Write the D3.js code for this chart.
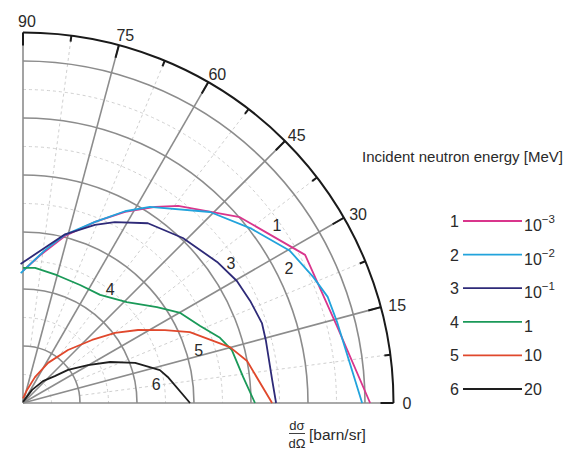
<!DOCTYPE html>
<html lang="en">
<head>
  <meta charset="UTF-8">
  <title>Neutron scattering polar plot</title>
  <script src="https://d3js.org/d3.v7.min.js"></script>
  <style>
    html, body { margin: 0; padding: 0; background: #fff; }
    text { font-family: "Liberation Sans", Arial, sans-serif; fill: #2a2a2a; }
  </style>
</head>
<body>
  <div id="container"></div>
  <script>
    // curve ids and incident energies (legend)
    const curveIds = ['1', '2', '3', '4', '5', '6'];
    const energyBase = ['10', '10', '10', '1', '10', '20'];
    const energyExp = ['\u22123', '\u22122', '\u22121', '', '', ''];
    const colors = ['#d9358c', '#22a3dc', '#2e2a78', '#1a9958', '#e0482c', '#1e1e1e'];

    // angle ticks (deg) and radial grid values
    const angleTicks = [0, 15, 30, 45, 60, 75, 90];
    const minorAngles = [7.5, 22.5, 37.5, 52.5, 67.5, 82.5];
    const solidRadii = [1, 2, 3, 4, 5, 6];
    const dashedRadii = [0.5, 1.5, 2.5, 3.5, 4.5, 5.5];
    const rMax = 6.5;

    // curves: angle in degrees, dσ/dΩ
    const angle1 = [90, 83.4, 75.9, 68.3, 61.9, 56.0, 51.8, 40.6, 27.7, 13.8, 0];
    const r1     = [2.32, 2.61, 3.02, 3.42, 3.80, 4.15, 4.40, 5.01, 5.59, 5.67, 6.09];
    const angle2 = [91, 81.8, 76.0, 68.3, 62.0, 57.1, 45.6, 37.6, 29.7, 23.5, 19.2, 14.5, 0];
    const r2     = [2.28, 2.71, 3.04, 3.42, 3.81, 4.10, 4.69, 5.03, 5.39, 5.55, 5.66, 5.69, 5.95];
    const angle3 = [91, 76.0, 68.0, 63.1, 55.2, 45.9, 36.0, 29.7, 24.2, 18.5, 14.5, 5.3, 0];
    const r3     = [2.44, 3.05, 3.37, 3.56, 3.84, 4.03, 4.21, 4.32, 4.37, 4.42, 4.40, 4.39, 4.44];
    const angle4 = [90, 84.9, 75.1, 64.2, 54.5, 44.2, 35.6, 29.8, 23.5, 18.3, 14.2, 6.7, 0];
    const r4     = [2.37, 2.38, 2.32, 2.30, 2.33, 2.54, 2.89, 3.18, 3.39, 3.64, 3.78, 3.89, 4.07];
    const angle5 = [90, 72.9, 65.2, 58.0, 49.7, 42.4, 37.3, 32.4, 27.2, 23.0, 15.1, 10.6, 0];
    const r5     = [0.08, 0.24, 0.50, 0.83, 1.22, 1.64, 2.03, 2.39, 2.80, 3.18, 3.76, 4.00, 4.37];
    const angle6 = [90, 55.3, 47.7, 40.2, 36.3, 30.3, 25.2, 19.7, 13.5, 10.2, 0];
    const r6     = [0.02, 0.28, 0.52, 0.73, 0.98, 1.32, 1.69, 2.09, 2.47, 2.58, 2.93];

    // curve number labels, in the same polar coordinates
    const labelAngle = [35.0, 26.9, 34.0, 52.6, 16.8, 8.1];
    const labelR     = [5.44, 5.23, 4.40, 2.52, 3.22, 2.36];

    const curves = [[angle1, r1], [angle2, r2], [angle3, r3], [angle4, r4], [angle5, r5], [angle6, r6]]
      .map((c, i) => ({ id: curveIds[i], color: colors[i], pts: c[0].map((a, j) => [a, c[1][j]]) }));

    const width = 582, height = 452;
    const origin = { x: 23, y: 403 };
    const R = 370.5;

    const svg = d3.select('#container').append('svg')
      .attr('width', width).attr('height', height);
    const g = svg.append('g').attr('transform', `translate(${origin.x},${origin.y})`);

    const rScale = d3.scaleLinear().domain([0, rMax]).range([0, R]);
    const rad = d => d * Math.PI / 180;
    const px = (a, r) => rScale(r) * Math.cos(rad(a));
    const py = (a, r) => -rScale(r) * Math.sin(rad(a));

    const quarter = r => {
      const p = d3.path();
      p.arc(0, 0, rScale(r), -Math.PI / 2, 0);
      return p.toString();
    };

    // dashed grid
    g.selectAll('.dash-arc').data(dashedRadii).enter().append('path')
      .attr('d', quarter).attr('fill', 'none')
      .attr('stroke', '#c9c9c9').attr('stroke-width', 0.9).attr('stroke-dasharray', '3,3');
    g.selectAll('.dash-ray').data(minorAngles).enter().append('line')
      .attr('x1', d => px(d, 1)).attr('y1', d => py(d, 1))
      .attr('x2', d => px(d, rMax)).attr('y2', d => py(d, rMax))
      .attr('stroke', '#c9c9c9').attr('stroke-width', 0.9).attr('stroke-dasharray', '3,3');

    // solid grid
    g.selectAll('.arc').data(solidRadii).enter().append('path')
      .attr('d', quarter).attr('fill', 'none')
      .attr('stroke', '#8c8c8c').attr('stroke-width', 1.6);
    g.selectAll('.ray').data(angleTicks).enter().append('line')
      .attr('x1', 0).attr('y1', 0)
      .attr('x2', d => px(d, rMax)).attr('y2', d => py(d, rMax))
      .attr('stroke', '#8c8c8c').attr('stroke-width', 1.6);

    // outer frame + ticks
    g.append('path').attr('d', quarter(rMax)).attr('fill', 'none')
      .attr('stroke', '#1a1a1a').attr('stroke-width', 2);
    const tickAngles = angleTicks.map(a => ({ a, len: 13 }))
      .concat(minorAngles.map(a => ({ a, len: 6 })));
    g.selectAll('.tick').data(tickAngles).enter().append('line')
      .attr('x1', d => px(d.a, rMax)).attr('y1', d => py(d.a, rMax))
      .attr('x2', d => (R - d.len) * Math.cos(rad(d.a)))
      .attr('y2', d => -(R - d.len) * Math.sin(rad(d.a)))
      .attr('stroke', '#1a1a1a').attr('stroke-width', 2);

    // angle labels
    g.selectAll('.alabel').data(angleTicks).enter().append('text')
      .attr('x', d => px(d, rMax) + 9 * Math.cos(rad(d)) - 5 * Math.sin(rad(d)))
      .attr('y', d => py(d, rMax) - 6 * Math.sin(rad(d)) + 6 * Math.cos(rad(d)))
      .attr('font-size', 16).text(d => d);

    // curves
    const line = d3.lineRadial()
      .angle(d => rad(90 - d[0]))
      .radius(d => rScale(d[1]));
    g.selectAll('.curve').data(curves).enter().append('path')
      .attr('d', d => line(d.pts)).attr('fill', 'none')
      .attr('stroke', d => d.color).attr('stroke-width', 1.8)
      .attr('stroke-linejoin', 'round');

    g.selectAll('.clabel').data(curveIds).enter().append('text')
      .attr('x', (d, i) => px(labelAngle[i], labelR[i]))
      .attr('y', (d, i) => py(labelAngle[i], labelR[i]) + 6)
      .attr('text-anchor', 'middle').attr('font-size', 16).text(d => d);

    // legend
    svg.append('text').attr('x', 362).attr('y', 162).attr('font-size', 15)
      .text('Incident neutron energy [MeV]');
    const ly = d3.scalePoint().domain(curveIds).range([221, 389]);
    const leg = svg.selectAll('.leg').data(curves).enter().append('g')
      .attr('transform', d => `translate(0,${ly(d.id)})`);
    leg.append('line').attr('x1', 463).attr('x2', 522)
      .attr('stroke', d => d.color).attr('stroke-width', 1.8);
    leg.append('text').attr('x', 459).attr('y', 6).attr('text-anchor', 'end')
      .attr('font-size', 16).text(d => d.id);
    const val = leg.append('text').attr('x', 524).attr('y', (d, i) => i < 4 ? 10 : 6)
      .attr('font-size', 16);
    val.append('tspan').text((d, i) => energyBase[i]);
    val.append('tspan').attr('dy', -8).attr('font-size', 11.5).text((d, i) => energyExp[i]);

    // radial axis title
    svg.append('text').attr('x', 297).attr('y', 430).attr('text-anchor', 'middle')
      .attr('font-size', 13).text('d\u03c3');
    svg.append('line').attr('x1', 289).attr('x2', 305).attr('y1', 433.5).attr('y2', 433.5)
      .attr('stroke', '#2a2a2a').attr('stroke-width', 0.9);
    svg.append('text').attr('x', 297).attr('y', 448).attr('text-anchor', 'middle')
      .attr('font-size', 13).text('d\u03a9');
    svg.append('text').attr('x', 309).attr('y', 440).attr('font-size', 15.5).text('[barn/sr]');
  </script>
</body>
</html>
